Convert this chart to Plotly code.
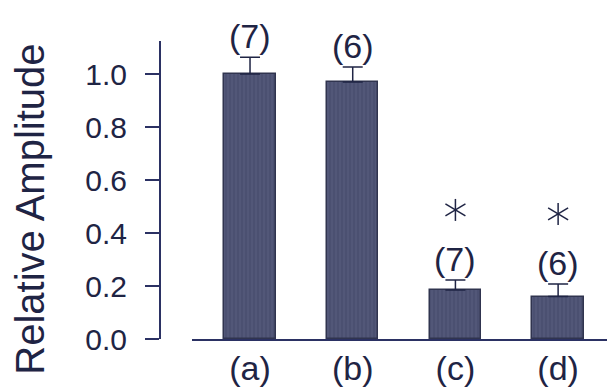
import plotly.graph_objects as go

categories = ["(a)", "(b)", "(c)", "(d)"]
values = [1.00, 0.970, 0.185, 0.160]
errors = [0.064, 0.057, 0.038, 0.048]
counts = ["(7)", "(6)", "(7)", "(6)"]
significant = [False, False, True, True]
y_ticks = [0.0, 0.2, 0.4, 0.6, 0.8, 1.0]
y_title = "Relative Amplitude"

INK = "#1f2444"
AXIS = "#2b3163"
FONT = "Liberation Sans, Arial, Helvetica, sans-serif"

xs = list(range(len(categories)))

fig = go.Figure()
fig.add_trace(go.Bar(
    x=xs, y=values, width=0.5,
    marker=dict(color="#525778", line=dict(color="#30344f", width=1.5),
                pattern=dict(shape="|", fgcolor="#3d4262", size=4, solidity=0.35)),
    error_y=dict(type="data", symmetric=False, array=errors,
                 arrayminus=[0] * len(values), color=INK, thickness=1.5, width=10),
    showlegend=False, hoverinfo="skip",
))

annotations = []
shapes = []
for i, (v, e, c, s) in enumerate(zip(values, errors, counts, significant)):
    top = v + e
    annotations.append(dict(x=i, y=top, xref="x", yref="y", text=c, showarrow=False,
                            yanchor="middle", yshift=21,
                            font=dict(family=FONT, size=34, color=INK)))
    if s:
        # six-armed asterisk drawn in pixel units above the error cap
        oy = 70
        for dx, dy in [(0, 11), (10, 6), (-10, 6)]:
            shapes.append(dict(type="line", xref="x", yref="y",
                               xsizemode="pixel", ysizemode="pixel",
                               xanchor=i, yanchor=top,
                               x0=-dx, x1=dx, y0=oy - dy, y1=oy + dy,
                               line=dict(color=INK, width=1.5)))

annotations.append(dict(text=y_title, textangle=-90, xref="paper", yref="paper",
                        x=-0.29, y=0.435, xanchor="center", yanchor="middle",
                        showarrow=False, font=dict(family=FONT, size=40, color=INK)))

fig.update_layout(
    width=607, height=388,
    margin=dict(l=160, r=0, t=41, b=49, autoexpand=False),
    paper_bgcolor="white", plot_bgcolor="white",
    annotations=annotations, shapes=shapes,
    xaxis=dict(domain=[32 / 447, 1], range=[-0.565, 3.476], automargin=False,
               tickmode="array", tickvals=xs, ticktext=categories,
               showline=True, linecolor=AXIS, linewidth=2, ticks="",
               showgrid=False, zeroline=False, ticklabelstandoff=-2,
               tickfont=dict(family=FONT, size=34, color=INK)),
    yaxis=dict(anchor="free", position=0, range=[0, 1.125], automargin=False,
               tickmode="array", tickvals=y_ticks,
               ticktext=[f"{t:.1f}" for t in y_ticks],
               showline=True, linecolor=AXIS, linewidth=2,
               ticks="outside", ticklen=14, tickwidth=1.5, tickcolor=AXIS,
               showgrid=False, zeroline=False, ticklabelstandoff=12,
               tickfont=dict(family=FONT, size=30, color=INK)),
    bargap=0,
)

fig.write_html("out.html", config={"displayModeBar": False},
               post_script="document.body.style.margin='0';document.body.style.overflow='hidden';")
